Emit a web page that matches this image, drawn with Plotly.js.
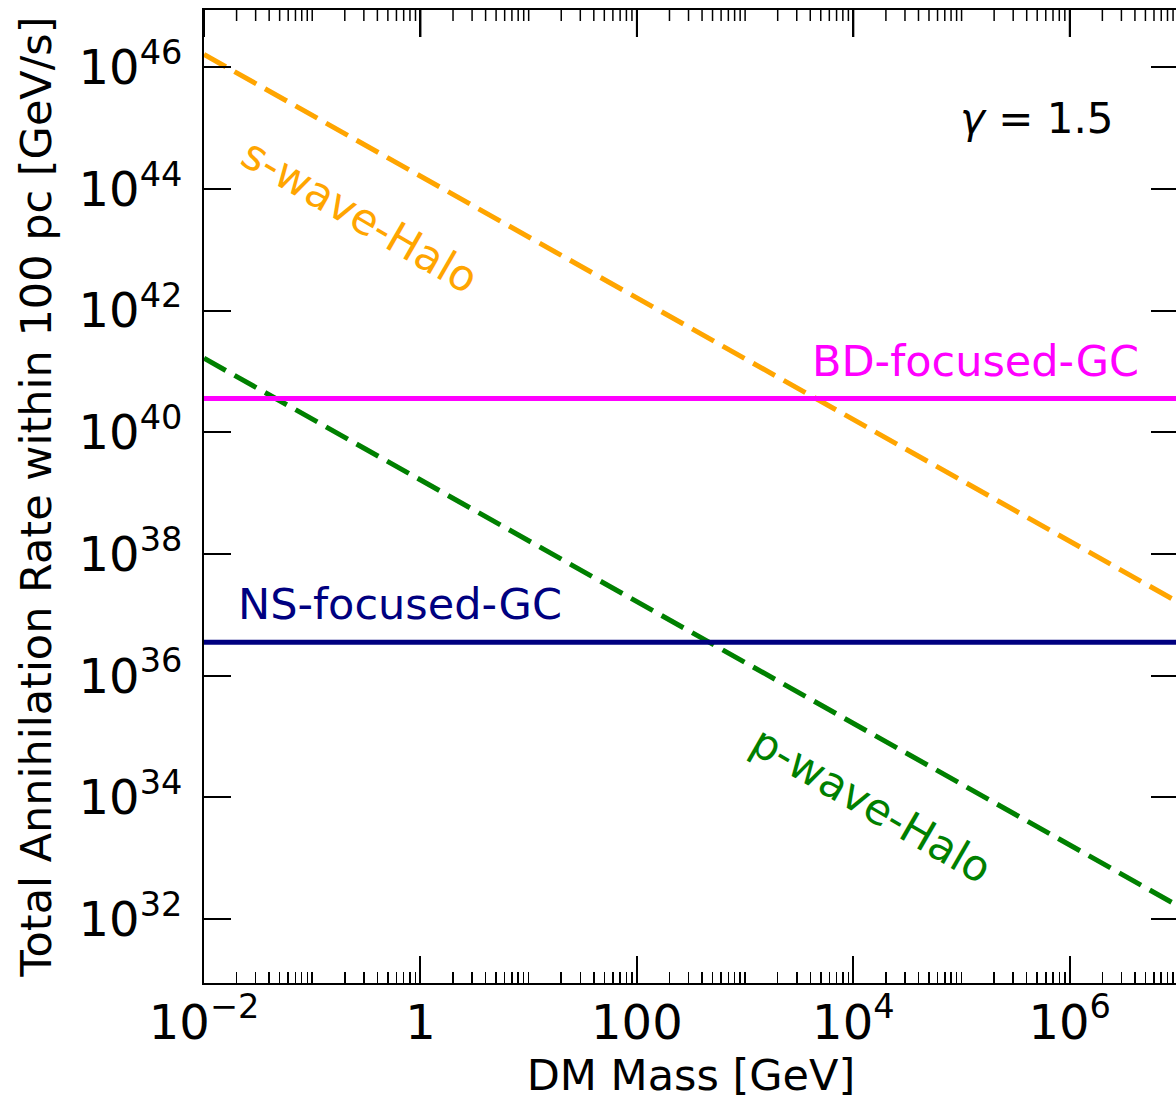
<!DOCTYPE html>
<html>
<head>
<meta charset="utf-8">
<script src="https://cdn.plot.ly/plotly-3.0.1.min.js"></script>
<style>
html,body{margin:0;padding:0;overflow:hidden;background:#fff;}
#chart{width:1180px;height:1111px;}
</style>
</head>
<body>
<div id="chart"></div>
<script>
// ---- data ----
const massGeV = [1e-2, 1e-1, 1, 10, 100, 1e3, 1e4, 1e5, 1e6, 1e7];
const sWaveHalo = [1.62e46, 1.62e45, 1.62e44, 1.62e43, 1.62e42, 1.62e41, 1.62e40, 1.62e39, 1.62e38, 1.62e37];
const pWaveHalo = [1.65e41, 1.65e40, 1.65e39, 1.65e38, 1.65e37, 1.65e36, 1.65e35, 1.65e34, 1.65e33, 1.65e32];
const bdFocusedGC = [3.6e40, 3.6e40, 3.6e40, 3.6e40, 3.6e40, 3.6e40, 3.6e40, 3.6e40, 3.6e40, 3.6e40];
const nsFocusedGC = [3.55e36, 3.55e36, 3.55e36, 3.55e36, 3.55e36, 3.55e36, 3.55e36, 3.55e36, 3.55e36, 3.55e36];

const xTickVals = [1e-2, 1, 100, 1e4, 1e6];
const xTickText = ['10<sup>\u22122</sup>', '1', '100', '10<sup>4</sup>', '10<sup>6</sup>'];
const yTickVals = [1e32, 1e34, 1e36, 1e38, 1e40, 1e42, 1e44, 1e46];
const yTickText = ['10<sup>32</sup>', '10<sup>34</sup>', '10<sup>36</sup>', '10<sup>38</sup>', '10<sup>40</sup>', '10<sup>42</sup>', '10<sup>44</sup>', '10<sup>46</sup>'];

// minor x ticks: 1..9 x 10^n except the labelled majors
const xMinor = [];
for (let e = -2; e <= 7; e++) {
  for (let k = 1; k <= 9; k++) {
    const v = k * Math.pow(10, e);
    if (k === 1 && e % 2 === 0) continue;
    xMinor.push(v);
  }
}

const FONT = 'DejaVu Sans, Liberation Sans, sans-serif';
const LW = 5;

const traces = [
  {x: massGeV, y: sWaveHalo, mode: 'lines', name: 's-wave-Halo',
   line: {color: '#FFA500', width: LW, dash: '25px,10px'}},
  {x: massGeV, y: pWaveHalo, mode: 'lines', name: 'p-wave-Halo',
   line: {color: '#008000', width: LW, dash: '25px,10px'}},
  {x: massGeV, y: bdFocusedGC, mode: 'lines', name: 'BD-focused-GC',
   line: {color: '#FF00FF', width: LW}},
  // drawn on the (identical) top x axis so that the mirrored top ticks are rendered
  {x: massGeV, y: nsFocusedGC, mode: 'lines', name: 'NS-focused-GC', xaxis: 'x2', yaxis: 'y',
   line: {color: '#000080', width: LW}}
];

// mirrored tick marks along the top spine (axis decorations at the tick values)
const topTickShapes = [];
xTickVals.forEach(v => topTickShapes.push({
  type: 'line', xref: 'x', yref: 'paper', ysizemode: 'pixel', yanchor: 1,
  x0: v, x1: v, y0: 0, y1: -27,
  line: {color: '#000', width: 2}, layer: 'above'
}));
xMinor.forEach(v => topTickShapes.push({
  type: 'line', xref: 'x', yref: 'paper', ysizemode: 'pixel', yanchor: 1,
  x0: v, x1: v, y0: 0, y1: -11,
  line: {color: '#000', width: 1.5}, layer: 'above'
}));

const layout = {
  width: 1180, height: 1111,
  margin: {l: 204, r: 2, t: 10, b: 128},
  paper_bgcolor: '#fff', plot_bgcolor: '#fff',
  showlegend: false,
  font: {family: FONT, color: '#000'},
  xaxis: {
    type: 'log', range: [-2, 7],
    tickmode: 'array', tickvals: xTickVals, ticktext: xTickText,
    ticks: 'inside', ticklen: 27, tickwidth: 2, tickcolor: '#000',
    showline: true, linewidth: 2, linecolor: '#000', mirror: true,
    showgrid: false, zeroline: false,
    tickfont: {size: 48, family: FONT, color: '#000'},
    ticklabelstandoff: -4,
    minor: {tickmode: 'array', tickvals: xMinor, ticks: 'inside', ticklen: 11, tickwidth: 1.5, tickcolor: '#000', showgrid: false},
    title: {text: 'DM Mass [GeV]', font: {size: 43, family: FONT, color: '#000'}, standoff: 6}
  },
  xaxis2: {
    type: 'log', range: [-2, 7], overlaying: 'x', side: 'top', anchor: 'y',
    tickmode: 'array', tickvals: xTickVals, showticklabels: false,
    ticks: 'inside', ticklen: 27, tickwidth: 2, tickcolor: '#000',
    showline: false, showgrid: false, zeroline: false
  },
  yaxis: {
    type: 'log', range: [30.95, 46.94],
    tickmode: 'array', tickvals: yTickVals, ticktext: yTickText,
    ticks: 'inside', ticklen: 27, tickwidth: 2, tickcolor: '#000',
    showline: true, linewidth: 2, linecolor: '#000', mirror: 'ticks',
    showgrid: false, zeroline: false,
    tickfont: {size: 48, family: FONT, color: '#000'},
    ticklabelstandoff: 10,
    title: {text: 'Total Annihilation Rate within 100 pc [GeV/s]', font: {size: 43, family: FONT, color: '#000'}, standoff: 14}
  },
  shapes: topTickShapes,
  annotations: [
    {x: -0.56, y: 43.55, xref: 'x', yref: 'y', text: 's-wave-Halo', showarrow: false,
     textangle: 30, font: {size: 43, color: '#FFA500', family: FONT}},
    {x: 4.17, y: 33.87, xref: 'x', yref: 'y', text: 'p-wave-Halo', showarrow: false,
     textangle: 30, font: {size: 43, color: '#008000', family: FONT}},
    {x: 5.13, y: 41.18, xref: 'x', yref: 'y', text: 'BD-focused-GC', showarrow: false,
     font: {size: 43, color: '#FF00FF', family: FONT}},
    {x: -0.19, y: 37.175, xref: 'x', yref: 'y', text: 'NS-focused-GC', showarrow: false,
     font: {size: 43, color: '#000080', family: FONT}},
    {x: 5.695, y: 45.16, xref: 'x', yref: 'y', text: '<i>\u03b3</i> = 1.5', showarrow: false,
     font: {size: 42, color: '#000', family: FONT}}
  ]
};

Plotly.newPlot('chart', traces, layout, {displayModeBar: false, staticPlot: true});
</script>
</body>
</html>
